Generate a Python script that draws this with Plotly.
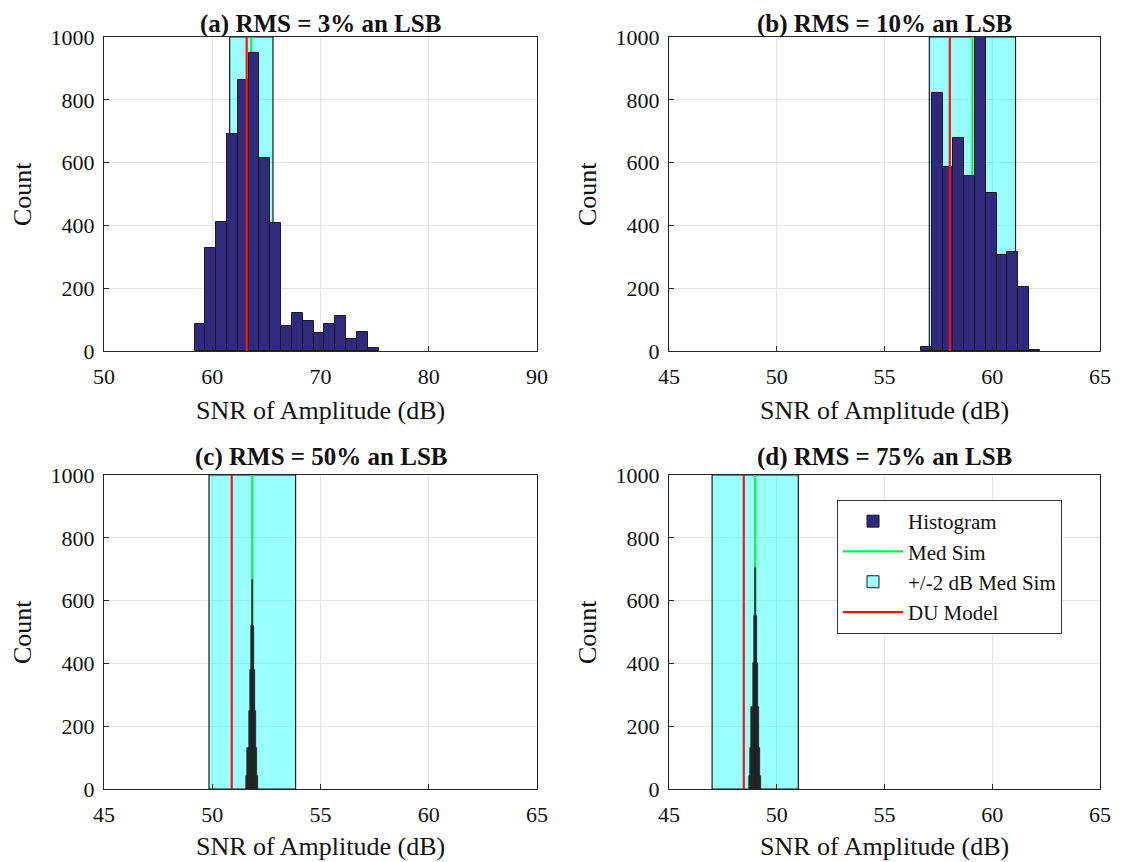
import plotly.graph_objects as go

# ---------------- data ----------------
titles = ["(a) RMS = 3% an LSB", "(b) RMS = 10% an LSB",
          "(c) RMS = 50% an LSB", "(d) RMS = 75% an LSB"]

a_centers = [58.86, 59.86, 60.86, 61.86, 62.86, 63.86, 64.86, 65.86, 66.86,
             67.86, 68.86, 69.86, 70.86, 71.86, 72.86, 73.86, 74.86]
a_counts = [85, 328, 412, 691, 862, 948, 614, 408, 79,
            120, 96, 58, 87, 113, 39, 61, 11]
a_width = 1.0

b_centers = [56.95, 57.45, 57.95, 58.45, 58.95, 59.45, 59.95, 60.45, 60.95, 61.45, 61.95]
b_counts = [14, 822, 587, 677, 556, 1010, 503, 307, 316, 203, 2]
b_width = 0.5

c_centers = [51.60, 51.65, 51.70, 51.75, 51.80, 51.85, 51.90, 51.95, 52.00, 52.05, 52.10]
c_counts = [40, 130, 250, 380, 520, 667, 520, 380, 250, 130, 40]
c_width = 0.05

d_centers = [48.75, 48.80, 48.85, 48.90, 48.95, 49.00, 49.05, 49.10, 49.15, 49.20, 49.25]
d_counts = [40, 130, 260, 400, 550, 704, 550, 400, 260, 130, 40]
d_width = 0.05

med_sim = [63.61, 59.08, 51.85, 49.00]
du_model = [63.18, 58.03, 50.90, 48.47]
band_half = 2.0

x_ranges = [[50, 90], [45, 65], [45, 65], [45, 65]]
x_ticks = [[50, 60, 70, 80, 90], [45, 50, 55, 60, 65], [45, 50, 55, 60, 65], [45, 50, 55, 60, 65]]
y_range = [0, 1000]
y_ticks = [0, 200, 400, 600, 800, 1000]

hists = [(a_centers, a_counts, a_width), (b_centers, b_counts, b_width),
         (c_centers, c_counts, c_width), (d_centers, d_counts, d_width)]

# ---------------- layout geometry (page pixels) ----------------
OFF = 8                       # default page body margin
W, H = 1121 - OFF, 862 - OFF
col_px = [(104, 537), (669, 1100)]
row_px = [(37, 351), (475, 789)]
FONT = "Liberation Serif, Times New Roman, serif"


def px_x(p):
    return (p - OFF) / W


def px_y(p):
    return 1 - (p - OFF) / H


bar_color = "#2F2A7E"
spike_color = "#252525"
band_fill = "rgba(0,255,255,0.40)"
band_legend_fill = "#99FFFF"
green = "#1FE84A"
red = "#FF1010"

fig = go.Figure()
annotations = []
shapes = []

for i in range(4):
    r, c = divmod(i, 2)
    ax = "" if i == 0 else str(i + 1)
    xref, yref = "x" + ax, "y" + ax
    x0p, x1p = col_px[c]
    y0p, y1p = row_px[r]
    dom_x = [px_x(x0p), px_x(x1p)]
    dom_y = [px_y(y1p), px_y(y0p)]

    lo, hi = med_sim[i] - band_half, med_sim[i] + band_half

    # band (+/-2 dB around median sim), drawn between grid and traces
    shapes.append(dict(type="rect", xref=xref, yref=yref, x0=lo, x1=hi,
                       y0=y_range[0], y1=y_range[1], fillcolor=band_fill,
                       line=dict(color="#1a1a1a", width=1.2), layer="between"))
    # median sim line (under the bars)
    shapes.append(dict(type="line", xref=xref, yref=yref, x0=med_sim[i], x1=med_sim[i],
                       y0=y_range[0], y1=y_range[1],
                       line=dict(color=green, width=2.2), layer="between"))

    # histogram
    cx, cy, wd = hists[i]
    narrow = wd < 0.2
    fig.add_trace(go.Bar(
        x=cx, y=cy, width=[wd] * len(cx),
        marker=dict(color=spike_color if narrow else bar_color,
                    line=dict(color="#1a1a1a", width=0.6 if narrow else 1.0)),
        name="Histogram", showlegend=False,
        xaxis=xref, yaxis=yref))
    # DU model
    fig.add_trace(go.Scatter(
        x=[du_model[i], du_model[i]], y=y_range, mode="lines",
        line=dict(color=red, width=2.2), name="DU Model", legendrank=4,
        showlegend=(i == 3), xaxis=xref, yaxis=yref))

    axis_common = dict(showline=True, mirror=True, linecolor="#262626", linewidth=1,
                       showgrid=True, gridcolor="#E3E3E3", gridwidth=1,
                       ticks="inside", ticklen=5, tickcolor="#262626", zeroline=False,
                       automargin=False,
                       tickfont=dict(family=FONT, size=22, color="#111111"))
    fig.layout["xaxis" + ax] = dict(domain=dom_x, range=x_ranges[i], tickvals=x_ticks[i],
                                    anchor=yref, ticklabelstandoff=6, **axis_common)
    fig.layout["yaxis" + ax] = dict(domain=dom_y, range=y_range, tickvals=y_ticks,
                                    anchor=xref, ticklabelstandoff=4, **axis_common)

    cxp = (x0p + x1p) / 2
    if r == 0:
        ty, tanchor = 1.0, "top"
    else:
        ty, tanchor = px_y(y0p - 18), "middle"
    annotations.append(dict(text="<b>" + titles[i] + "</b>", x=px_x(cxp), y=ty,
                            xref="paper", yref="paper", showarrow=False,
                            font=dict(family=FONT, size=25, color="#111111"),
                            xanchor="center", yanchor=tanchor))
    annotations.append(dict(text="SNR of Amplitude (dB)", x=px_x(cxp),
                            y=px_y(y1p + (59 if r == 0 else 57)),
                            xref="paper", yref="paper", showarrow=False,
                            font=dict(family=FONT, size=26, color="#111111"),
                            xanchor="center", yanchor="middle"))
    annotations.append(dict(text="Count", x=px_x(x0p - 82), y=px_y((y0p + y1p) / 2),
                            xref="paper", yref="paper", showarrow=False, textangle=-90,
                            font=dict(family=FONT, size=26, color="#111111"),
                            xanchor="center", yanchor="middle"))

# legend-only entries (no data drawn)
fig.add_trace(go.Bar(x=[None], y=[None], name="Histogram", legendrank=1,
                     marker=dict(color=bar_color, line=dict(color="#1a1a1a", width=1)),
                     xaxis="x4", yaxis="y4", showlegend=True))
fig.add_trace(go.Scatter(x=[None], y=[None], mode="lines", name="Med Sim", legendrank=2,
                         line=dict(color=green, width=2.2), xaxis="x4", yaxis="y4"))
fig.add_trace(go.Bar(x=[None], y=[None], name="+/-2 dB Med Sim", legendrank=3,
                     marker=dict(color=band_legend_fill, line=dict(color="#1a1a1a", width=1)),
                     xaxis="x4", yaxis="y4", showlegend=True))

fig.update_layout(
    width=W, height=H, margin=dict(l=0, r=0, t=0, b=0),
    plot_bgcolor="white", paper_bgcolor="white",
    barmode="overlay", bargap=0, showlegend=True,
    annotations=annotations, shapes=shapes,
    font=dict(family=FONT, color="#111111"),
    legend=dict(x=px_x(837), y=px_y(500), xanchor="left", yanchor="top",
                bgcolor="white", bordercolor="#333333", borderwidth=1,
                font=dict(family=FONT, size=21, color="#111111"),
                itemwidth=60, tracegroupgap=0, traceorder="normal"),
)

fig.write_html("out.html")
